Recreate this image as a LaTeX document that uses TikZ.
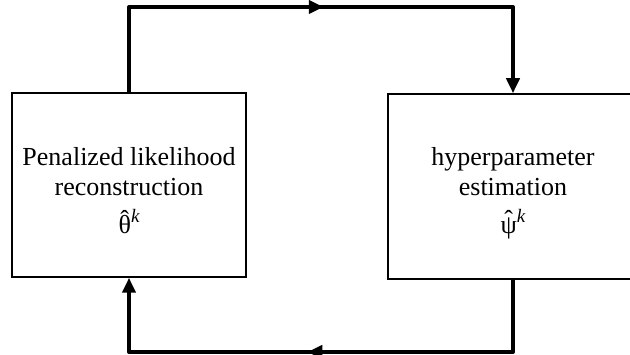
\documentclass[tikz,border=0pt]{standalone}
\usepackage{fontspec}
\setmainfont{Liberation Serif}
\usetikzlibrary{arrows.meta,decorations.markings}
% circumflex set over a tall glyph, with an italic superscript
\newcommand\hatted[2]{{\ooalign{#1\cr\hidewidth\raisebox{0.19em}{\char"02C6}\hidewidth\cr}}%
  \raisebox{0.42em}{\fontsize{19}{19}\selectfont\itshape #2}}
\begin{document}
\begin{tikzpicture}[x=1pt,y=-1pt,
  block/.style={draw, line width=1.5pt, inner sep=0pt},
  caption/.style={align=center, inner sep=0pt, font=\fontsize{26}{30}\selectfont},
  flow/.style={line width=4pt, line join=round, line cap=butt},
  tipstyle/.style={-{Triangle[length=15pt,width=13pt]}},
  midtip/.style={postaction={decorate}, decoration={markings,
    mark=at position #1 with {\arrow{Triangle[length=15pt,width=13pt]}}}}]
  % canvas and clipping of the right block that runs past the border
  \clip (0,0) rectangle (630,355);
  \fill[white] (0,0) rectangle (630,355);

  \node[block, minimum width=234pt, minimum height=184pt] (pl) at (129,185) {};
  \node[block, minimum width=250pt, minimum height=185pt] (hp) at (513,186.5) {};
  \node[caption] (pltext) at ([yshift=-5.5pt]pl.center)
    {Penalized likelihood\\ reconstruction\\[8pt] \hatted{θ}{k}};
  \node[caption] (hptext) at ([yshift=-3.5pt]hp.center)
    {hyperparameter\\ estimation\\[8pt] \hatted{ψ}{k}};

  % feedback loop between the two blocks
  \coordinate (tl) at (129,7);
  \coordinate (br) at (513,352);
  \draw[flow, tipstyle, midtip=280pt] (pl.north) -- (tl) -| (hp.north);
  \draw[flow, tipstyle, midtip=278pt] (hp.south) -- (br) -| (pl.south);
\end{tikzpicture}
\end{document}
